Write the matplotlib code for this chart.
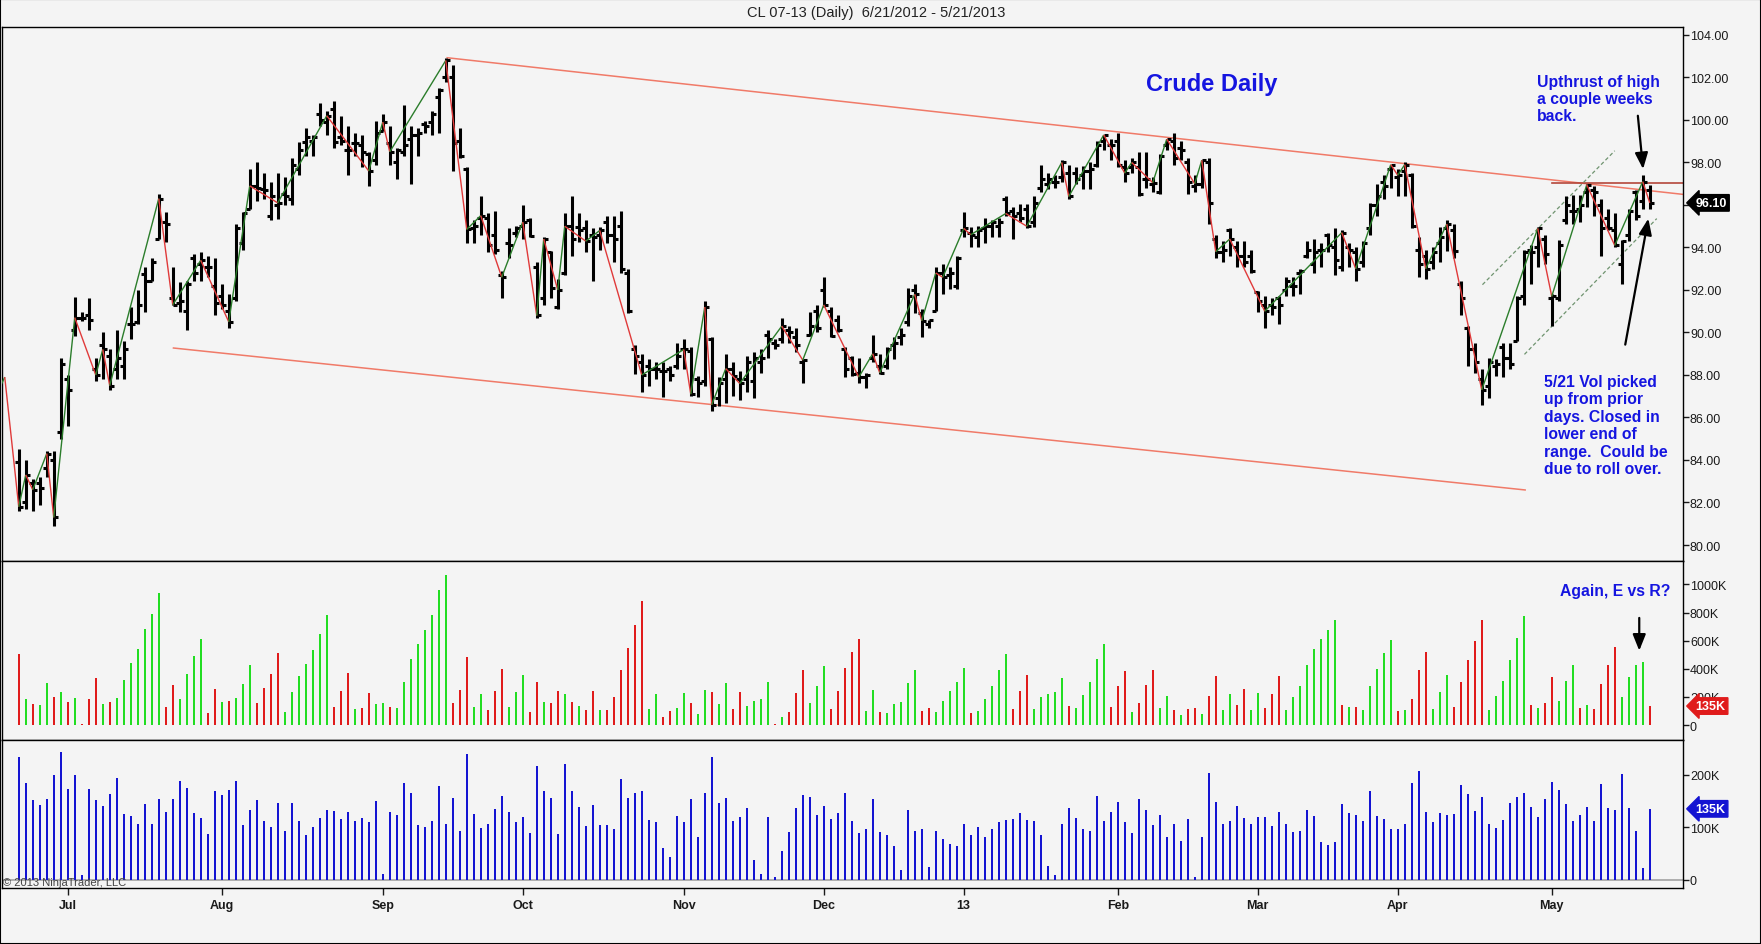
# CL 07-13 daily chart (NinjaTrader style) with Weis wave volume and raw volume
import numpy as np
import matplotlib
matplotlib.use('Agg')
import matplotlib.pyplot as plt
from matplotlib.collections import LineCollection
from matplotlib.patches import Rectangle
from matplotlib.transforms import blended_transform_factory

plt.rcParams['font.family'] = ['Liberation Sans', 'DejaVu Sans']

# ---- data, one bar per session 6/21/2012 .. 5/21/2013 ----
opens = [83.9, 82.0, 82.9, 82.9, 83.6, 84.0, 85.3, 87.8, 90.1, 90.7,
         90.8, 88.3, 89.4, 88.9, 88.3, 88.4, 90.4, 90.5, 92.75, 92.4,
         94.4, 95.2, 91.6, 91.4, 91.0, 93.5, 93.2, 93.1, 92.2, 91.7,
         91.0, 91.6, 94.2, 95.8, 96.9, 96.75, 95.5, 96.0, 96.5, 96.3,
         97.7, 98.95, 99.0, 100.3, 99.9, 100.5, 99.2, 98.6, 98.9, 98.8,
         98.4, 98.1, 99.5, 98.9, 98.0, 98.5, 99.1, 99.3, 99.8, 99.9,
         101.1, 102.0, 102.0, 99.0, 97.7, 94.9, 95.4, 95.4, 94.6, 92.7,
         94.2, 94.7, 95.0, 95.3, 93.1, 91.6, 93.8, 91.2, 92.8, 95.0,
         94.95, 94.9, 94.6, 94.6, 95.2, 94.6, 95.0, 92.8, 89.2, 88.6,
         88.4, 88.3, 88.2, 88.3, 88.4, 89.2, 89.15, 87.8, 87.7, 89.7,
         86.9, 87.8, 88.3, 87.8, 87.8, 87.7, 88.6, 89.9, 89.5, 89.7,
         90.1, 89.8, 88.6, 89.9, 91.0, 92.0, 91.0, 90.6, 89.2, 88.8,
         88.1, 87.9, 88.8, 88.4, 88.4, 89.4, 89.8, 90.5, 92.0, 90.9,
         90.4, 91.0, 92.8, 92.7, 92.2, 94.8, 94.7, 94.5, 94.9, 95.0,
         95.0, 96.3, 95.7, 95.6, 95.8, 95.2, 96.8, 97.0, 97.1, 97.3,
         97.5, 97.5, 97.4, 97.6, 97.9, 99.0, 98.8, 99.0, 97.8, 97.8,
         97.8, 97.2, 97.0, 96.6, 98.8, 99.0, 98.7, 98.0, 96.9, 97.0,
         98.0, 94.4, 93.8, 94.8, 94.0, 93.6, 93.6, 91.9, 91.3, 91.3,
         91.6, 92.0, 92.2, 92.8, 93.6, 93.2, 93.9, 94.6, 94.0, 93.1,
         94.0, 93.8, 93.3, 94.9, 96.0, 97.1, 97.7, 97.3, 97.6, 97.4,
         93.9, 93.6, 93.3, 94.2, 94.9, 94.8, 92.3, 90.2, 89.2, 87.8,
         87.5, 88.4, 89.3, 88.8, 89.6, 91.7, 93.9, 94.0, 94.4, 91.6,
         91.6, 95.3, 95.7, 95.8, 96.6, 96.7, 96.0, 95.4, 94.8, 93.2,
         94.6, 96.6, 96.2, 96.7]
highs = [84.5, 84.0, 83.1, 83.2, 84.4, 84.4, 88.8, 88.0, 91.65, 90.95,
         91.6, 88.8, 90.0, 89.2, 90.1, 89.6, 91.2, 92.0, 93.1, 93.5,
         96.5, 95.65, 93.1, 92.36, 92.4, 93.7, 93.8, 93.6, 93.5, 92.3,
         91.8, 95.1, 95.65, 97.7, 98.0, 97.5, 97.1, 97.5, 97.3, 98.2,
         98.95, 99.6, 99.3, 100.8, 100.4, 100.9, 100.2, 99.7, 99.4, 99.3,
         98.5, 99.97, 100.3, 99.7, 98.7, 100.7, 99.7, 99.6, 99.97, 100.4,
         101.5, 102.9, 102.6, 99.6, 97.8, 95.3, 96.4, 95.6, 95.7, 92.9,
         94.9, 95.0, 96.0, 95.4, 93.3, 94.5, 93.85, 92.5, 95.6, 96.4,
         95.6, 95.3, 94.9, 94.95, 95.5, 95.5, 95.7, 93.0, 89.4, 88.99,
         88.75, 88.6, 88.6, 88.4, 89.5, 89.7, 89.3, 87.97, 91.5, 89.8,
         87.9, 89.0, 88.6, 88.2, 88.9, 89.1, 89.2, 90.1, 89.7, 90.7,
         90.3, 90.2, 88.75, 90.95, 91.3, 92.6, 91.2, 90.8, 89.3, 88.9,
         88.8, 88.1, 89.9, 89.0, 89.3, 89.8, 90.2, 92.1, 92.3, 91.1,
         90.6, 93.1, 93.2, 93.1, 93.6, 95.65, 94.95, 95.0, 95.4, 95.3,
         95.4, 96.4, 95.9, 96.05, 96.05, 96.4, 97.9, 97.5, 97.4, 98.1,
         97.9, 97.8, 97.85, 98.0, 99.0, 99.3, 99.1, 99.4, 98.1, 98.2,
         98.5, 98.5, 97.3, 98.4, 99.1, 99.4, 99.0, 98.2, 97.4, 98.1,
         98.2, 94.6, 94.3, 94.9, 94.3, 94.3, 93.9, 91.97, 91.7, 91.6,
         91.7, 92.6, 92.6, 92.99, 94.3, 94.4, 94.2, 94.7, 94.9, 94.8,
         94.2, 94.0, 94.3, 96.1, 97.0, 97.4, 97.9, 97.7, 98.0, 97.5,
         94.5, 93.9, 94.0, 94.95, 95.3, 95.1, 92.4, 90.3, 89.5, 88.3,
         88.8, 88.75, 89.5, 89.5, 91.7, 93.9, 94.1, 94.95, 94.6, 91.8,
         94.35, 96.4, 96.45, 96.45, 97.0, 96.9, 96.3, 95.8, 95.6, 94.35,
         95.8, 96.7, 97.4, 96.95]
lows = [81.6, 81.7, 81.6, 81.9, 83.2, 80.9, 85.0, 85.6, 89.85, 90.55,
        90.1, 87.7, 87.8, 87.3, 87.8, 87.8, 89.7, 90.4, 90.95, 92.4,
        94.4, 94.25, 91.3, 90.95, 90.1, 92.4, 92.4, 92.6, 90.8, 91.1,
        90.2, 91.5, 93.9, 95.8, 96.2, 96.3, 95.3, 95.35, 96.0, 96.0,
        97.4, 98.3, 98.3, 99.7, 99.3, 98.7, 98.8, 97.4, 98.3, 97.8,
        96.9, 97.9, 99.5, 97.9, 97.2, 98.3, 97.0, 98.3, 99.4, 99.3,
        99.4, 101.8, 97.6, 98.2, 94.2, 94.2, 94.6, 93.8, 93.7, 91.6,
        93.5, 94.5, 94.4, 94.5, 90.7, 91.3, 91.6, 91.1, 92.7, 93.6,
        94.24, 93.8, 92.4, 93.9, 94.2, 93.3, 92.8, 90.9, 88.05, 87.2,
        87.5, 87.8, 86.95, 87.7, 88.3, 88.3, 87.03, 86.95, 87.5, 86.3,
        86.56, 86.7, 87.0, 86.8, 87.2, 86.9, 88.1, 88.8, 89.2, 89.5,
        89.5, 89.1, 87.6, 89.85, 90.0, 91.2, 89.8, 90.0, 87.9, 87.97,
        87.6, 87.4, 88.6, 88.05, 88.3, 88.75, 89.4, 90.3, 90.9, 89.8,
        90.2, 91.0, 91.8, 92.05, 92.05, 94.5, 94.0, 94.0, 94.2, 94.5,
        94.5, 95.5, 94.4, 95.2, 94.9, 94.95, 96.6, 96.75, 96.8, 97.1,
        96.3, 96.99, 96.75, 96.75, 97.8, 98.6, 98.1, 97.8, 97.1, 97.5,
        96.4, 96.8, 96.6, 96.5, 98.6, 97.9, 98.1, 96.5, 96.6, 96.8,
        95.1, 93.5, 93.3, 93.6, 93.1, 93.1, 92.8, 90.95, 90.2, 90.8,
        90.4, 91.7, 91.7, 91.8, 93.5, 92.8, 93.1, 93.8, 92.7, 92.9,
        93.1, 92.4, 93.1, 94.6, 95.5, 96.3, 96.8, 96.4, 96.4, 94.9,
        92.6, 92.5, 93.0, 93.3, 93.85, 93.5, 90.8, 88.4, 88.1, 86.6,
        86.9, 87.95, 87.9, 88.3, 89.6, 91.3, 92.3, 93.1, 93.2, 90.3,
        91.5, 95.1, 95.1, 95.2, 95.9, 95.5, 93.6, 94.8, 94.0, 92.3,
        94.3, 95.3, 95.8, 95.8]
closes = [81.8, 83.3, 82.6, 82.7, 84.3, 81.3, 88.5, 87.3, 90.7, 90.7,
          90.6, 88.0, 89.2, 87.5, 88.8, 89.2, 90.4, 91.3, 92.4, 93.3,
          96.3, 95.1, 91.3, 91.5, 92.3, 92.8, 93.4, 93.1, 91.4, 91.3,
          90.5, 94.9, 95.6, 96.9, 96.8, 96.7, 96.4, 96.1, 96.4, 97.9,
          98.6, 99.2, 99.2, 100.0, 100.2, 98.95, 99.0, 98.6, 98.9, 98.5,
          97.6, 99.4, 99.9, 98.5, 98.6, 98.8, 99.3, 99.4, 99.7, 100.3,
          101.4, 102.8, 98.9, 98.3, 94.85, 95.0, 95.5, 94.1, 93.9, 92.6,
          94.1, 94.9, 95.2, 94.55, 90.8, 94.4, 92.1, 92.0, 95.0, 94.4,
          94.8, 94.3, 94.5, 94.8, 94.6, 94.4, 93.0, 91.0, 88.9, 88.0,
          88.3, 88.3, 88.2, 88.0, 88.9, 89.2, 87.1, 87.6, 91.2, 86.6,
          87.6, 88.3, 87.97, 87.6, 88.6, 88.8, 88.8, 89.7, 89.4, 90.3,
          90.0, 89.4, 88.7, 90.3, 90.2, 91.3, 89.85, 90.1, 88.3, 88.05,
          87.9, 88.0, 89.0, 88.1, 89.2, 89.5, 89.9, 91.7, 91.8, 90.55,
          90.6, 92.8, 92.6, 92.8, 93.5, 94.9, 94.6, 94.8, 95.0, 95.2,
          95.2, 95.6, 95.5, 95.4, 95.0, 96.1, 97.2, 97.2, 97.1, 98.0,
          96.4, 97.2, 97.6, 97.7, 98.8, 99.3, 98.8, 97.9, 97.5, 98.0,
          96.5, 97.2, 97.05, 98.3, 99.1, 98.2, 98.6, 97.1, 97.0, 98.1,
          96.1, 93.8, 93.9, 94.4, 93.6, 93.3, 92.9, 91.5, 91.0, 91.2,
          91.3, 92.4, 92.2, 92.9, 93.9, 93.8, 93.9, 94.1, 93.4, 94.7,
          93.9, 93.0, 94.2, 96.0, 96.4, 96.9, 97.9, 97.4, 97.9, 95.0,
          93.2, 93.0, 93.8, 94.5, 95.1, 93.85, 91.6, 89.2, 88.6, 87.3,
          88.6, 88.5, 88.8, 88.5, 91.6, 93.8, 93.8, 94.9, 93.7, 91.7,
          94.1, 96.0, 95.7, 96.0, 96.95, 96.6, 94.9, 94.9, 94.1, 94.3,
          95.7, 95.5, 97.1, 96.1]

# daily volume, thousands (bottom panel)
volume = [234, 184, 152, 143, 154, 199, 244, 173, 199, 9,
          173, 152, 141, 163, 194, 125, 121, 106, 144, 106,
          154, 129, 154, 188, 175, 127, 118, 87, 169, 161,
          171, 188, 104, 133, 152, 112, 100, 147, 92, 147,
          112, 86, 100, 118, 133, 131, 116, 129, 112, 118,
          110, 150, 11, 129, 123, 184, 165, 104, 100, 112,
          178, 106, 156, 93, 240, 125, 98, 106, 135, 159,
          129, 110, 120, 89, 216, 169, 156, 88, 220, 169,
          139, 102, 142, 104, 104, 97, 192, 156, 165, 169,
          114, 110, 60, 43, 121, 110, 154, 81, 165, 234,
          146, 156, 112, 120, 137, 37, 11, 120, 5, 55,
          91, 137, 162, 157, 123, 140, 116, 127, 165, 112,
          89, 97, 154, 91, 85, 64, 18, 133, 93, 97,
          24, 93, 78, 68, 64, 106, 85, 101, 81, 97,
          110, 114, 116, 127, 114, 112, 85, 26, 9, 106,
          137, 118, 97, 93, 159, 112, 129, 148, 110, 89,
          154, 133, 104, 123, 81, 106, 74, 116, 5, 81,
          203, 148, 106, 112, 140, 118, 106, 120, 120, 102,
          129, 106, 91, 92, 133, 122, 71, 66, 71, 144,
          127, 123, 111, 169, 122, 116, 97, 97, 106, 184,
          207, 129, 110, 127, 123, 125, 180, 163, 131, 158,
          106, 99, 114, 147, 158, 165, 139, 120, 154, 187,
          171, 144, 111, 124, 139, 111, 182, 136, 132, 201,
          136, 92, 23, 135]

# wave volume, thousands (middle panel) and wave direction per bar
wave_vol = [505, 185, 149, 142, 297, 199, 235, 164, 192, 4,
            185, 338, 147, 166, 195, 319, 441, 540, 683, 790,
            940, 128, 287, 185, 366, 494, 610, 88, 256, 166,
            174, 192, 291, 429, 157, 266, 366, 513, 95, 238,
            351, 434, 534, 647, 783, 130, 240, 370, 114, 121,
            230, 152, 157, 128, 119, 304, 470, 577, 679, 783,
            961, 1067, 157, 249, 487, 128, 221, 107, 240, 399,
            128, 235, 356, 92, 306, 164, 157, 240, 221, 164,
            133, 107, 240, 107, 104, 201, 393, 549, 714, 883,
            114, 224, 60, 103, 121, 231, 154, 81, 246, 234,
            146, 302, 112, 232, 137, 174, 185, 305, 5, 55,
            91, 228, 390, 157, 280, 420, 116, 243, 408, 520,
            609, 97, 251, 91, 85, 149, 167, 300, 393, 97,
            121, 93, 171, 239, 303, 409, 85, 101, 182, 279,
            389, 503, 116, 243, 357, 112, 197, 223, 232, 338,
            137, 118, 215, 308, 467, 579, 129, 277, 387, 89,
            154, 287, 391, 123, 204, 106, 74, 116, 121, 81,
            203, 351, 106, 218, 140, 258, 106, 226, 120, 222,
            351, 106, 197, 280, 427, 541, 612, 679, 750, 142,
            130, 130, 109, 280, 399, 512, 607, 100, 107, 185,
            391, 518, 114, 233, 356, 130, 304, 463, 595, 747,
            107, 204, 311, 463, 619, 778, 142, 119, 157, 339,
            171, 311, 427, 119, 144, 114, 292, 427, 552, 201,
            339, 427, 446, 135]
wave_dir = ''.join([
    'rgrggrgrgr', 'rrgrgggggg', 'grrggggrrg', 'rgggrrrrgg', 'gggggrrrgr',
    'rggrgggggg', 'ggrrrggrrr', 'gggrrgrrgr', 'grrgrrrrrr', 'ggrrggrggr',
    'ggrrggggrg', 'rrrgggrrrr', 'rggrgggggr', 'rgggggrggg', 'ggrrrggggg',
    'rgggggrrrg', 'rrrggrgrrg', 'rrggrrggrr', 'rggggggggr', 'grgggggrgr',
    'rrgggrrrrr', 'ggggggrgrr', 'gggrgrrrrg', 'gggr'])

# zigzag swing pivots (bar index), line runs through closes
prior_swing = ([-4, -2], [86.5, 87.9])
pivots = [0, 1, 2, 4, 5, 8, 11, 12, 13, 20, 22, 26, 30, 33, 37, 44, 50, 52, 53,
          61, 64, 66, 69, 72, 74, 75, 77, 78, 81, 83, 89, 95, 96, 98, 99, 101,
          103, 109, 112, 115, 120, 122, 123, 128, 129, 131, 132, 135, 136, 141,
          144, 149, 150, 155, 158, 159, 162, 164, 168, 169, 171, 173, 178, 189,
          191, 196, 197, 198, 201, 204, 209, 217, 219, 224, 228, 232, 233]

# hand-drawn lines (bar index, price)
upper_channel = ([61.2, 237.75], [102.93, 96.5])
lower_channel = ([22.1, 215.2], [89.27, 82.59])
upthrust_level = ([219.0, 237.75], [97.03, 97.03])
flag_upper = ([209.1, 228.0], [92.25, 98.55])
flag_lower = ([215.1, 234.0], [88.97, 95.36])

month_pos = [7, 29, 52, 72, 95, 115, 135, 157, 177, 197, 219]
month_lab = ['Jul', 'Aug', 'Sep', 'Oct', 'Nov', 'Dec', '13', 'Feb', 'Mar', 'Apr', 'May']

BG = '#f4f4f4'
NOTE = '#1515e0'
W, H = 1761, 945

fig = plt.figure(figsize=(W / 100, H / 100), dpi=100, facecolor=BG)


def panel(top, bottom):
    return [1.5 / W, 1 - bottom / H, (1683 - 1.5) / W, (bottom - top) / H]


ax_p = fig.add_axes(panel(27.7, 562.3), facecolor=BG)
ax_v = fig.add_axes(panel(562.3, 740.7), facecolor=BG, sharex=ax_p)
ax_r = fig.add_axes(panel(740.7, 889.3), facecolor=BG, sharex=ax_p)

x = np.arange(len(closes))

# ---- price panel ----
for xs, ys in (upper_channel, lower_channel):
    ax_p.plot(xs, ys, color='#f07a68', lw=1.1, zorder=1)
ax_p.plot(*upthrust_level, color='#b4473a', lw=1.2, zorder=1)
for xs, ys in (flag_upper, flag_lower):
    ax_p.plot(xs, ys, color='#6f936f', lw=0.9, ls=(0, (3, 2)), zorder=1)

vert = [[(i, l), (i, h)] for i, h, l in zip(x, highs, lows)]
tk = 0.55
otk = [[(i - tk, o), (i, o)] for i, o in zip(x, opens)]
ctk = [[(i, c), (i + tk, c)] for i, c in zip(x, closes)]
ax_p.add_collection(LineCollection(vert + otk + ctk, colors='black',
                                   linewidths=2.2, capstyle='butt', zorder=2))

zx = prior_swing[0] + pivots
zy = prior_swing[1] + [closes[i] for i in pivots]
zsegs = [[(zx[k], zy[k]), (zx[k + 1], zy[k + 1])] for k in range(len(zx) - 1)]
zcols = ['#2b7d2b' if zy[k + 1] > zy[k] else '#e03a3a' for k in range(len(zx) - 1)]
ax_p.add_collection(LineCollection(zsegs, colors=zcols, linewidths=1.0, zorder=3))

ax_p.set_ylim(79.233, 104.39)
ax_p.set_yticks(np.arange(80, 105, 2))
ax_p.set_yticklabels([f'{v:.2f}' for v in np.arange(80, 105, 2)])

ax_p.text(170.46, 101.74, 'Crude Daily', color=NOTE, fontsize=17, fontweight='bold',
          ha='center', va='center')
ax_p.text(216.9, 101.01, 'Upthrust of high\na couple weeks\nback.', color=NOTE,
          fontsize=11.3, fontweight='bold', ha='left', va='center', linespacing=1.2)
ax_p.text(217.9, 85.65, '5/21 Vol picked\nup from prior\ndays. Closed in\nlower end of\n'
          'range.  Could be\ndue to roll over.', color=NOTE, fontsize=11.3,
          fontweight='bold', ha='left', va='center', linespacing=1.2)
arw = dict(arrowstyle='-|>,head_length=0.75,head_width=0.3', color='black', lw=1.6,
           mutation_scale=13, shrinkA=0, shrinkB=0)
ax_p.annotate('', xy=(232.05, 97.69), xytext=(231.3, 100.2), arrowprops=arw)
ax_p.annotate('', xy=(232.8, 95.36), xytext=(229.5, 89.43), arrowprops=arw)

# ---- wave volume panel ----
wcol = ['#22dd22' if d == 'g' else '#e01b1b' for d in wave_dir]
ax_v.bar(x, wave_vol, width=0.3, color=wcol, linewidth=0)
ax_v.set_ylim(-104.6, 1165)
ax_v.set_yticks([0, 200, 400, 600, 800, 1000])
ax_v.set_yticklabels(['0', '200K', '400K', '600K', '800K', '1000K'])
ax_v.text(220.2, 956, 'Again, E vs R?', color=NOTE, fontsize=11.3, fontweight='bold',
          ha='left', va='center')
ax_v.annotate('', xy=(231.5, 529), xytext=(231.5, 762), arrowprops=arw)

# ---- raw volume panel ----
ax_r.axhline(0, color='#a8a8a8', lw=1.3, zorder=0)
ax_r.bar(x, volume, width=0.3, color='#1414d2', linewidth=0)
ax_r.set_ylim(-16.4, 266.7)
ax_r.set_yticks([0, 100, 200])
ax_r.set_yticklabels(['0', '100K', '200K'])

# ---- axes cosmetics ----
ax_p.set_xlim(-2.464, 237.75)
for ax in (ax_p, ax_v, ax_r):
    ax.yaxis.tick_right()
    ax.tick_params(axis='y', direction='out', length=4, width=1, pad=1,
                   labelsize=9, colors='#1a1a1a')
    for s in ax.spines.values():
        s.set_color('black')
        s.set_linewidth(1)
for ax in (ax_p, ax_v):
    ax.tick_params(axis='x', bottom=False, labelbottom=False)
ax_r.set_xticks(month_pos)
ax_r.set_xticklabels(month_lab, fontweight='bold')
ax_r.tick_params(axis='x', direction='out', length=5, width=1, pad=3, labelsize=9,
                 colors='#1a1a1a')

# last-value markers on the right axis
for ax, val, txt, fc in ((ax_p, closes[-1], f'{closes[-1]:.2f}', 'black'),
                         (ax_v, wave_vol[-1], f'{wave_vol[-1]}K', '#e01b1b'),
                         (ax_r, volume[-1], f'{volume[-1]}K', '#1414d2')):
    tr = blended_transform_factory(ax.transAxes, ax.transData)
    ax.text(1.0075, val, txt, transform=tr, ha='left', va='center', color='white',
            fontsize=9, fontweight='bold', zorder=10, clip_on=False,
            bbox=dict(boxstyle='larrow,pad=0.18', fc=fc, ec=fc))

fig.text(876 / W, 1 - 13 / H, 'CL 07-13 (Daily)  6/21/2012 - 5/21/2013',
         ha='center', va='center', fontsize=10.5, color='#222222')
fig.text(3 / W, 1 - 883 / H, '\u00a9 2013 NinjaTrader, LLC', ha='left', va='center',
         fontsize=8, color='#444444')
fig.patches.append(Rectangle((0, 0), 1, 1, transform=fig.transFigure, fill=False,
                             ec='black', lw=1.5))

fig.savefig('out.png', dpi=100, facecolor=BG)
